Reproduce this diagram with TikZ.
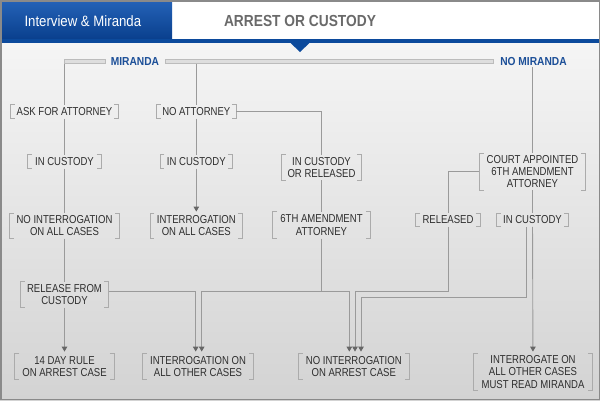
\documentclass[tikz,border=0pt]{standalone}
\usepackage{fontspec}
\setmainfont{Liberation Sans}
\newfontfamily\condA[FakeStretch=0.88]{Liberation Sans}
\newfontfamily\condC[FakeStretch=0.83]{Liberation Sans}
\newfontfamily\condB[FakeStretch=0.86]{Liberation Sans}
\usetikzlibrary{arrows.meta}
\definecolor{txt}{HTML}{2E2E2E}
\definecolor{brkc}{HTML}{ABABAB}
\definecolor{lnc}{HTML}{9A9A9A}
\definecolor{arrc}{HTML}{666666}
\definecolor{tabtop}{HTML}{2563B8}
\definecolor{tabbot}{HTML}{0A408E}
\definecolor{blueline}{HTML}{0C4A9C}
\definecolor{mirblue}{HTML}{1C4F98}
\definecolor{bodytop}{HTML}{F5F5F5}
\definecolor{bodybot}{HTML}{D3D3D3}
\definecolor{framec}{HTML}{8A8A8A}
\definecolor{titlec}{HTML}{6A6A6A}
\definecolor{barfill}{HTML}{DEDEDE}
\definecolor{bardraw}{HTML}{BCBCBC}
\tikzset{
  box/.style={font=\condC\fontsize{11.5}{12.3}\selectfont, text=txt, align=center, inner sep=0pt},
  brk/.style={draw=brkc, line width=0.9pt},
  ln/.style={draw=lnc, line width=0.9pt},
  arr/.style={ln, -{Triangle[width=5.5pt,length=5pt,color=arrc]}, shorten >=1.5pt},
  mir/.style={font=\condA\bfseries\fontsize{11.6}{13}\selectfont, text=mirblue, inner sep=0pt},
  mbar/.style={fill=barfill, draw=bardraw, line width=0.8pt}
}
\begin{document}
\begin{tikzpicture}[x=1pt,y=-1pt]
\useasboundingbox (0,0) rectangle (600,400);
% header
\fill[white] (0,0) rectangle (600,40);
\shade[top color=tabtop, bottom color=tabbot] (0,0) rectangle (172,38.3);
\node[anchor=base west, inner sep=0pt, text=white, font=\condA\fontsize{15}{17}\selectfont] (tab) at (24.3,26) {Interview \& Miranda};
\node[anchor=base, inner sep=0pt, text=titlec, font=\condB\bfseries\fontsize{16}{18}\selectfont] (title) at (300,26.5) {ARREST OR CUSTODY};
% body
\shade[top color=bodytop, bottom color=bodybot] (0,42.7) rectangle (600,400);
\fill[blueline] (0,39.4) rectangle (600,42.7);
\fill[blueline] (290,42.5) -- (310,42.5) -- (300,52) -- cycle;
% miranda bars
\draw[mbar] (64.5,59.5) rectangle (105,63.5);
\draw[mbar] (165,59.5) rectangle (493,63.5);
\node[mir] (mir) at (135,61.5) {MIRANDA};
\node[mir] (nomir) at (533.5,61.5) {NO MIRANDA};
\coordinate (mbarA) at (64.5,63.5);
\coordinate (mbarB) at (196.3,63.5);
\coordinate (nomirc) at (532.5,67);
% nodes
\node[box, minimum width=108, minimum height=13.3] (ask) at (64.5,111.7) {ASK FOR ATTORNEY};
\node[box, minimum width=79.7, minimum height=13.3] (noatt) at (196.3,111.7) {NO ATTORNEY};
\node[box, minimum width=73.4, minimum height=13.3] (cust1) at (64.5,161.7) {IN CUSTODY};
\node[box, minimum width=72.3, minimum height=13.3] (cust2) at (196.3,161.7) {IN CUSTODY};
\node[box, minimum width=80, minimum height=25] (custrel) at (321.5,167.5) {IN CUSTODY\\OR RELEASED};
\node[box, minimum width=105.7, minimum height=36.7] (court) at (532.5,171.7) {COURT APPOINTED\\6TH AMENDMENT\\ATTORNEY};
\node[box, minimum width=110, minimum height=25] (noint) at (64.5,225.8) {NO INTERROGATION\\ON ALL CASES};
\node[box, minimum width=92.3, minimum height=25] (int) at (196.3,225.8) {INTERROGATION\\ON ALL CASES};
\node[box, minimum width=97.5, minimum height=26.6] (sixth) at (321.5,225) {6TH AMENDMENT\\ATTORNEY};
\node[box, minimum width=64, minimum height=13.3] (released) at (448,220) {RELEASED};
\node[box, minimum width=71.6, minimum height=13.3] (cust3) at (532.5,220) {IN CUSTODY};
\node[box, minimum width=88.3, minimum height=25.6] (relcust) at (64.5,294.5) {RELEASE FROM\\CUSTODY};
\node[box, minimum width=99, minimum height=26] (day14) at (64.5,366.3) {14 DAY RULE\\ON ARREST CASE};
\node[box, minimum width=111, minimum height=26] (intother) at (198,366.3) {INTERROGATION ON\\ALL OTHER CASES};
\node[box, minimum width=111, minimum height=26] (noarrest) at (353.8,366.3) {NO INTERROGATION\\ON ARREST CASE};
\node[box, minimum width=119.4, minimum height=37.4] (interrogate) at (533,372) {INTERROGATE ON\\ALL OTHER CASES\\MUST READ MIRANDA};
% brackets
\foreach \n in {ask,noatt,cust1,cust2,custrel,court,noint,int,sixth,released,cust3,relcust,day14,intother,noarrest,interrogate}{
  \draw[brk] ([xshift=4.5pt]\n.north west) -- (\n.north west) -- (\n.south west) -- ([xshift=4.5pt]\n.south west);
  \draw[brk] ([xshift=-4.5pt]\n.north east) -- (\n.north east) -- (\n.south east) -- ([xshift=-4.5pt]\n.south east);
}
% connectors
\coordinate (j6) at (321.5,291);
\coordinate (j7) at (361,297.3);
\draw[ln] (mbarA) -- (ask.north);
\draw[ln] (mbarB) -- (noatt.north);
\draw[ln] (nomirc) -- (court.north);
\draw[ln] (ask) -- (cust1);
\draw[ln] (cust1) -- (noint);
\draw[ln] (noint) -- (relcust);
\draw[arr] (relcust) -- (day14);
\draw[ln] (noatt) -- (cust2);
\draw[arr] (cust2) -- (int);
\draw[ln] (noatt.east) -| (custrel.north);
\draw[ln] (custrel) -- (sixth);
\draw[ln] (sixth) -- (j6);
\draw[arr] (j6) -| ([xshift=3.7pt]intother.north);
\draw[arr] (j6) -| ([xshift=-4.5pt]noarrest.north);
\draw[arr] (relcust.east |- j6) -| ([xshift=-2.3pt]intother.north);
\draw[ln] (court) -- (cust3);
\draw[arr] (cust3) -- (interrogate);
\draw[ln] (court.west) -| (released.north);
\draw[arr] (released.south) -- (released.south |- j6) -| ([xshift=1.2pt]noarrest.north);
\draw[arr] ([xshift=-5.8pt]cust3.south) -- ([xshift=-5.8pt]cust3.south |- j7) -| ([xshift=7.2pt]noarrest.north);
% frame
\draw[framec, line width=1.5pt] (0.75,0.75) rectangle (599.25,399.25);
\end{tikzpicture}
\end{document}
